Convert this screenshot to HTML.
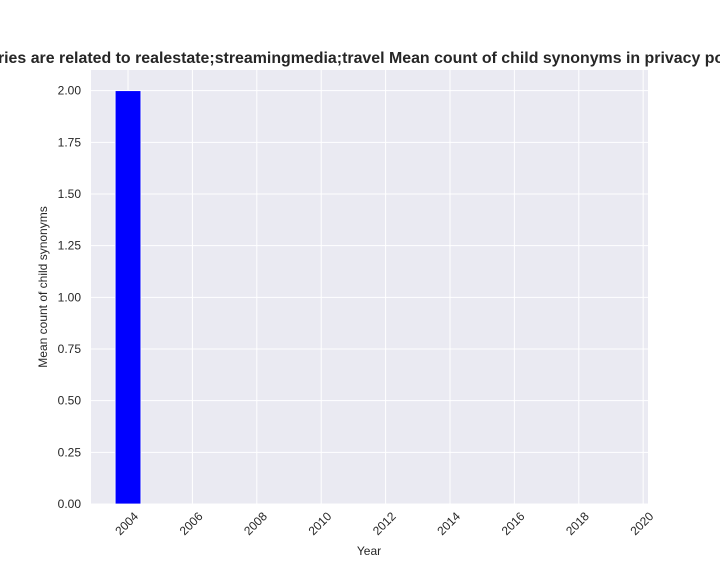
<!DOCTYPE html>
<html><head><meta charset="utf-8"><style>
body{margin:0;background:#fff;}
svg{display:block;font-family:"Liberation Sans",Arial,sans-serif;}
</style></head><body>
<svg id="chart" width="720" height="576">
<text x="-56" y="63" font-size="16" font-weight="bold" fill="#262626" textLength="820" lengthAdjust="spacingAndGlyphs">Categories are related to realestate;streamingmedia;travel Mean count of child synonyms in privacy policies</text>
<rect x="91" y="70" width="557" height="434" fill="#eaeaf2"/>
<g id="grid"></g>
<g id="bars"></g>
<g id="ticks"></g>
<text x="369" y="555" font-size="12" text-anchor="middle" fill="#262626">Year</text>
<text transform="translate(47,287) rotate(-90)" font-size="12" text-anchor="middle" fill="#262626">Mean count of child synonyms</text>
</svg>
<script>
const years=[2004];
const values=[2.0];
const xTicks=[2004,2006,2008,2010,2012,2014,2016,2018,2020];
const yTicks=[0,0.25,0.5,0.75,1.0,1.25,1.5,1.75,2.0];
const NS="http://www.w3.org/2000/svg";
const x0=91,x1=648,yb=504,yt=70;
const xmin=2002.85,xmax=2020.15,ymin=0,ymax=2.1;
const xs=v=>x0+(v-xmin)/(xmax-xmin)*(x1-x0);
const ys=v=>yb-(v-ymin)/(ymax-ymin)*(yb-yt);
function mk(t,a,p){const e=document.createElementNS(NS,t);for(const k in a)e.setAttribute(k,a[k]);p.appendChild(e);return e;}
const g=document.getElementById('grid'),b=document.getElementById('bars'),tk=document.getElementById('ticks');
xTicks.forEach(v=>{
 const l=mk('line',{x1:xs(v),x2:xs(v),y1:yt,y2:yb,stroke:'#fff','stroke-width':1},g);
 
 
 const t=mk('text',{transform:`translate(${xs(v)+11},${yb+13}) rotate(-45)`,'font-size':12,'text-anchor':'end',fill:'#262626'},tk);
 t.textContent=v;
 
 
});
yTicks.forEach(v=>{
 const l=mk('line',{x1:x0,x2:x1,y1:ys(v),y2:ys(v),stroke:'#fff','stroke-width':1},g);
 
 
 const t=mk('text',{x:x0-10,y:ys(v)+4,'font-size':12,'text-anchor':'end',fill:'#262626'},tk);
 t.textContent=v.toFixed(2);
 
 
});
const bw=0.8;
years.forEach((yr,i)=>{
 const r=mk('rect',{x:xs(yr-bw/2),y:ys(values[i]),width:xs(yr+bw/2)-xs(yr-bw/2),height:ys(0)-ys(values[i]),fill:'#0000ff',stroke:'#fff','stroke-width':0.8},b);
 
 
});
</script>
</body></html>
